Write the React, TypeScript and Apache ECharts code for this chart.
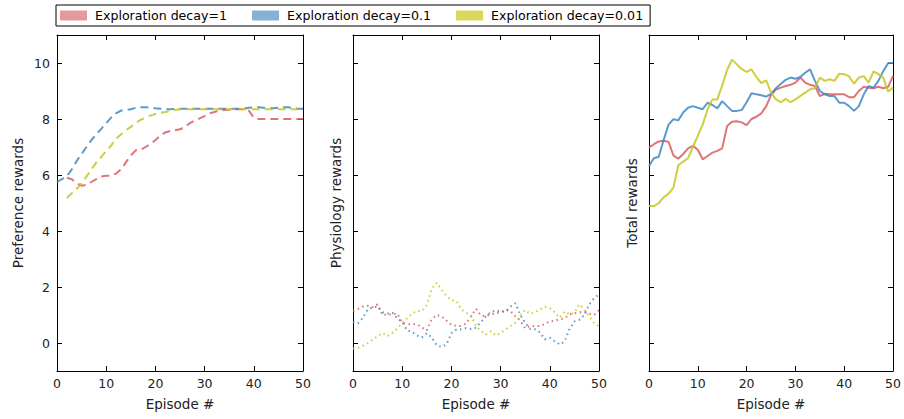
import React, { useEffect, useRef } from "react";
import * as echarts from "echarts";

const seriesNames = ["Exploration decay=1", "Exploration decay=0.1", "Exploration decay=0.01"];
const lineColors = ["#d95c62", "#3f88c5", "#c6c61c"];
const legendColors = ["#e29a9d", "#88b0d6", "#d8d85e"];
const xTicks = [0, 10, 20, 30, 40, 50];
const yTicks = [0, 2, 4, 6, 8, 10];
const panelYNames = ["Preference rewards", "Physiology rewards", "Total rewards"];
const xName = "Episode #";

// Preference rewards (panel 1)
const prefRed = [null, null, 5.9, 5.85, 5.7, 5.62, 5.65, 5.75, 5.85, 5.95, 5.97, 5.98, 6.05, 6.2, 6.45, 6.7, 6.88, 6.9, 7.0, 7.1, 7.25, 7.4, 7.52, 7.57, 7.6, 7.63, 7.72, 7.85, 7.95, 8.02, 8.1, 8.2, 8.25, 8.3, 8.32, 8.33, 8.35, 8.35, 8.35, 8.3, 8.05, 8.0, 8.0, 8.0, 8.0, 8.0, 8.0, 8.0, 8.0, 8.0, 8.0];
const prefBlue = [5.75, 5.85, 5.95, 6.2, 6.5, 6.75, 7.0, 7.25, 7.45, 7.65, 7.85, 8.05, 8.2, 8.3, 8.32, 8.35, 8.4, 8.42, 8.42, 8.4, 8.38, 8.37, 8.35, 8.35, 8.36, 8.37, 8.37, 8.37, 8.37, 8.37, 8.37, 8.37, 8.37, 8.37, 8.37, 8.37, 8.37, 8.37, 8.37, 8.4, 8.42, 8.42, 8.4, 8.38, 8.38, 8.4, 8.42, 8.42, 8.38, 8.37, 8.37];
const prefYellow = [null, null, 5.18, 5.35, 5.5, 5.7, 5.95, 6.2, 6.45, 6.65, 6.85, 7.05, 7.3, 7.45, 7.6, 7.72, 7.85, 7.97, 8.05, 8.12, 8.18, 8.22, 8.25, 8.28, 8.32, 8.35, 8.35, 8.35, 8.35, 8.35, 8.35, 8.35, 8.35, 8.35, 8.35, 8.35, 8.35, 8.35, 8.35, 8.35, 8.35, 8.35, 8.35, 8.35, 8.35, 8.35, 8.35, 8.35, 8.35, 8.35, 8.35];

// Physiology rewards (panel 2)
const physRed = [1.15, 1.22, 1.3, 1.33, 1.28, 1.38, 1.0, 1.02, 1.02, 1.05, 0.72, 0.67, 0.67, 0.67, 0.55, 0.45, 0.85, 1.0, 0.95, 0.8, 0.65, 0.61, 0.61, 0.7, 0.95, 1.22, 0.98, 0.96, 1.02, 1.06, 1.1, 1.18, 1.14, 0.95, 0.8, 0.52, 0.61, 0.61, 0.61, 0.68, 0.77, 0.79, 0.85, 0.88, 1.02, 1.06, 1.1, 1.1, 1.05, 1.0, 1.17];
const physBlue = [0.75, 0.7, 0.9, 1.2, 1.28, 1.3, 1.1, 1.05, 1.08, 0.88, 0.75, 0.45, 0.4, 0.27, 0.2, 0.35, 0.2, -0.08, -0.14, -0.05, 0.35, 0.48, 0.49, 0.53, 0.5, 0.55, 0.75, 0.95, 1.1, 1.16, 1.12, 1.12, 1.3, 1.42, 1.0, 0.72, 0.5, 0.49, 0.38, 0.13, 0.19, 0.06, -0.05, 0.05, 0.5, 0.77, 0.83, 1.0, 1.38, 1.6, 1.74];
const physYellow = [-0.2, -0.18, -0.1, 0.0, 0.12, 0.24, 0.36, 0.25, 0.36, 0.52, 0.72, 0.88, 1.05, 1.14, 1.14, 1.35, 1.95, 2.15, 1.9, 1.68, 1.53, 1.5, 1.2, 1.08, 0.98, 0.6, 0.43, 0.3, 0.42, 0.27, 0.36, 0.48, 0.6, 0.72, 0.98, 1.18, 1.04, 1.1, 1.2, 1.3, 1.25, 1.1, 0.9, 1.12, 1.02, 1.08, 1.38, 1.2, 0.96, 0.7, 0.6];

// Total rewards (panel 3)
const totRed = [6.98, 7.1, 7.2, 7.22, 7.18, 6.7, 6.58, 6.75, 6.95, 7.04, 6.9, 6.56, 6.68, 6.8, 6.86, 6.95, 7.75, 7.9, 7.92, 7.88, 7.78, 8.0, 8.08, 8.2, 8.45, 8.85, 9.05, 9.12, 9.18, 9.22, 9.3, 9.48, 9.3, 9.22, 9.18, 8.82, 8.9, 8.88, 8.88, 8.88, 8.88, 8.78, 8.78, 9.0, 9.15, 9.12, 9.1, 9.15, 9.1, 9.15, 9.54];
const totBlue = [6.32, 6.6, 6.65, 7.25, 7.8, 7.99, 7.95, 8.23, 8.4, 8.46, 8.4, 8.35, 8.58, 8.5, 8.38, 8.64, 8.46, 8.29, 8.29, 8.32, 8.6, 8.92, 8.88, 8.85, 8.8, 8.9, 9.1, 9.25, 9.4, 9.48, 9.44, 9.5, 9.65, 9.77, 9.36, 9.0, 8.88, 8.82, 8.82, 8.58, 8.58, 8.46, 8.29, 8.46, 8.88, 9.18, 9.12, 9.36, 9.71, 10.0, 10.0];
const totYellow = [4.89, 4.89, 5.0, 5.2, 5.33, 5.55, 6.35, 6.48, 6.6, 7.0, 7.4, 7.8, 8.35, 8.7, 8.7, 9.2, 9.75, 10.12, 9.95, 9.78, 9.68, 9.77, 9.5, 9.28, 9.38, 8.95, 8.7, 8.6, 8.72, 8.6, 8.7, 8.82, 8.94, 9.06, 9.1, 9.48, 9.36, 9.42, 9.36, 9.62, 9.6, 9.52, 9.26, 9.48, 9.53, 9.3, 9.7, 9.6, 9.48, 8.98, 9.12];

const panels = [
  { data: [prefRed, prefBlue, prefYellow], lineType: [8, 5] as any },
  { data: [physRed, physBlue, physYellow], lineType: [1.5, 3.5] as any },
  { data: [totRed, totBlue, totYellow], lineType: "solid" as any },
];

const gridLefts = [57, 353, 649];
const gridWidths = [246, 246, 247];
const FONT = "DejaVu Sans";

export default function App() {
  const ref = useRef<HTMLDivElement>(null);
  useEffect(() => {
    if (!ref.current) return;
    const chart = echarts.init(ref.current, null, { renderer: "svg" });
    const axisLine = { show: true, onZero: false, lineStyle: { color: "#000", width: 1 } };
    const grid = gridLefts.map((l, i) => ({ left: l, top: 35, width: gridWidths[i], height: 336, containLabel: false }));
    const xAxis: any[] = [];
    const yAxis: any[] = [];
    for (let i = 0; i < 3; i++) {
      xAxis.push({
        type: "value", gridIndex: i, min: xTicks[0], max: xTicks[xTicks.length - 1], interval: 10, position: "bottom",
        axisLine, splitLine: { show: false },
        axisTick: { show: true, inside: true, length: 5, lineStyle: { color: "#000" } },
        axisLabel: { show: true, color: "#222", fontFamily: FONT, fontSize: 12.5, margin: 6 },
        name: xName, nameLocation: "middle", nameGap: 26,
        nameTextStyle: { color: "#222", fontFamily: FONT, fontSize: 13.5 },
      });
      yAxis.push({
        type: "value", gridIndex: i, min: -1, max: 11, position: "left",
        axisLine, splitLine: { show: false },
        axisTick: { show: true, inside: true, length: 5, customValues: yTicks, lineStyle: { color: "#000" } },
        axisLabel: { show: i === 0, customValues: yTicks, color: "#222", fontFamily: FONT, fontSize: 12.5, margin: 7 },
        name: panelYNames[i], nameLocation: "middle", nameGap: i === 0 ? 32 : 10, nameRotate: 90,
        nameTextStyle: { color: "#222", fontFamily: FONT, fontSize: 13.5 },
      });
    }
    for (let i = 0; i < 3; i++) {
      xAxis.push({
        type: "value", gridIndex: i, min: 0, max: 50, interval: 10, position: "top",
        axisLine, splitLine: { show: false },
        axisTick: { show: true, inside: true, length: 5, lineStyle: { color: "#000" } },
        axisLabel: { show: false },
      });
      yAxis.push({
        type: "value", gridIndex: i, min: -1, max: 11, position: "right",
        axisLine, splitLine: { show: false },
        axisTick: { show: true, inside: true, length: 5, customValues: yTicks, lineStyle: { color: "#000" } },
        axisLabel: { show: false, customValues: yTicks },
      });
    }
    const series: any[] = [];
    panels.forEach((p, pi) => {
      p.data.forEach((vals, si) => {
        series.push({
          type: "line", name: seriesNames[si], xAxisIndex: pi, yAxisIndex: pi,
          data: vals.map((v, i) => [i, v]),
          showSymbol: false, symbol: "none", silent: true,
          lineStyle: { color: lineColors[si], width: 2, type: p.lineType, opacity: 0.85 },
          itemStyle: { color: lineColors[si] },
          z: 2 + si,
        });
      });
    });
    chart.setOption({
      animation: false,
      backgroundColor: "#fff",
      grid,
      xAxis,
      yAxis,
      legend: {
        left: 56, top: 5, orient: "horizontal",
        data: seriesNames.map((n, i) => ({ name: n, icon: "rect", itemStyle: { color: legendColors[i] } })),
        itemWidth: 27, itemHeight: 10, itemGap: 25,
        borderColor: "#000", borderWidth: 1, borderRadius: 0,
        padding: [4, 7, 4, 4],
        textStyle: { color: "#000", fontFamily: FONT, fontSize: 12.6, padding: [0, 0, 0, 3] },
        selectedMode: false,
      },
      series,
    });
    return () => chart.dispose();
  }, []);
  return <div ref={ref} style={{ width: 904, height: 419, position: "absolute", left: 0, top: 0 }} />;
}
